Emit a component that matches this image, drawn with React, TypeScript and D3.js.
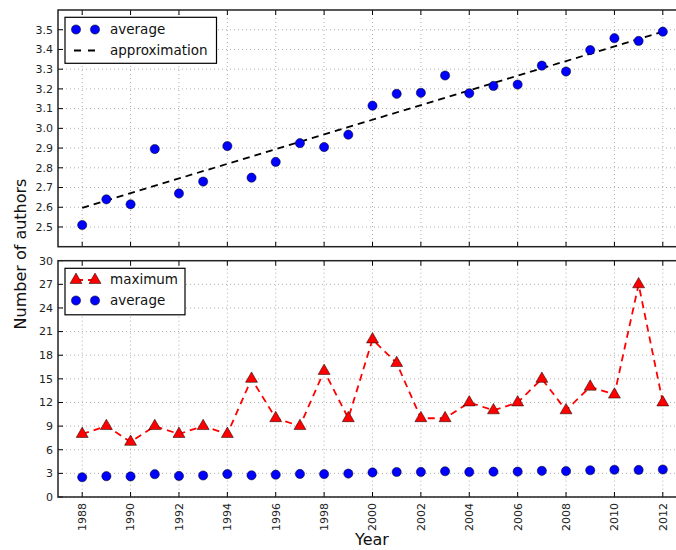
import React from "react";
import * as d3 from "d3";

const years = d3.range(1988, 2013);
const averageValues = [2.51, 2.64, 2.615, 2.895, 2.67, 2.73, 2.91, 2.75, 2.83, 2.925, 2.905, 2.968, 3.115, 3.175, 3.18, 3.268, 3.178, 3.215, 3.222, 3.318, 3.288, 3.397, 3.457, 3.443, 3.49];
const maximumValues = [8, 9, 7, 9, 8, 9, 8, 15, 10, 9, 16, 10, 20, 17, 10, 10, 12, 11, 12, 15, 11, 14, 13, 27, 12];
const approxYears = [1988, 2012];
const approxValues = [2.597, 3.49];
const topTicks = [2.5, 2.6, 2.7, 2.8, 2.9, 3.0, 3.1, 3.2, 3.3, 3.4, 3.5];
const bottomTicks = [0, 3, 6, 9, 12, 15, 18, 21, 24, 27, 30];
const xTicks = [1988, 1990, 1992, 1994, 1996, 1998, 2000, 2002, 2004, 2006, 2008, 2010, 2012];

const FONT = "DejaVu Sans, sans-serif";
const W = 676, H = 550;
const left = 58, right = 687;
const top1 = 10, bot1 = 246.7;
const top2 = 260.7, bot2 = 497;

const x = d3.scaleLinear().domain([1987, 2013]).range([left, right]);
const y1 = d3.scaleLinear().domain([2.4, 3.6]).range([bot1, top1]);
const y2 = d3.scaleLinear().domain([0, 30]).range([bot2, top2]);

const tri = d3.symbol().type(d3.symbolTriangle).size(62)();
const DASH = "7,5";

function Panel({ y, yTicks, fmt, top, bot, children }: any) {
  return (
    <g>
      {xTicks.map((t) => (
        <line key={"gx" + t} x1={x(t)} x2={x(t)} y1={top} y2={bot} stroke="#777" strokeWidth={0.6} strokeDasharray="1,3" />
      ))}
      {yTicks.map((t: number) => (
        <line key={"gy" + t} x1={left} x2={right} y1={y(t)} y2={y(t)} stroke="#777" strokeWidth={0.6} strokeDasharray="1,3" />
      ))}
      {children}
      {xTicks.map((t) => (
        <g key={"tx" + t}>
          <line x1={x(t)} x2={x(t)} y1={bot} y2={bot - 5} stroke="#000" strokeWidth={1} />
          <line x1={x(t)} x2={x(t)} y1={top} y2={top + 5} stroke="#000" strokeWidth={1} />
        </g>
      ))}
      {yTicks.map((t: number) => (
        <g key={"ty" + t}>
          <line x1={left} x2={left + 5} y1={y(t)} y2={y(t)} stroke="#000" strokeWidth={1} />
          <text x={left - 5} y={y(t)} dy="0.35em" textAnchor="end" fontSize={11} fontFamily={FONT} fill="#222">{fmt(t)}</text>
        </g>
      ))}
      <rect x={left} y={top} width={right - left} height={bot - top} fill="none" stroke="#222" strokeWidth={1.5} />
    </g>
  );
}

export default function App() {
  const approxLine = d3.line<number>().x((d, i) => x(approxYears[i])).y((d) => y1(d));
  const maxLine = d3.line<number>().x((d, i) => x(years[i])).y((d) => y2(d));
  return (
    <svg width={W} height={H} style={{ position: "absolute", left: 0, top: 0, background: "#fff" }}>
      <rect width={W} height={H} fill="#fff" />
      <Panel y={y1} yTicks={topTicks} fmt={(t: number) => t.toFixed(1)} top={top1} bot={bot1}>
        <path d={approxLine(approxValues) || ""} fill="none" stroke="#000" strokeWidth={1.8} strokeDasharray={DASH} />
        {averageValues.map((v, i) => (
          <circle key={i} cx={x(years[i])} cy={y1(v)} r={4.6} fill="#0000ff" stroke="#000" strokeWidth={0.5} />
        ))}
        <g>
          <rect x={65} y={17.3} width={151.5} height={46} fill="#fff" stroke="#000" strokeWidth={1.2} />
          <circle cx={76} cy={29.5} r={4.6} fill="#0000ff" stroke="#000" strokeWidth={0.5} />
          <circle cx={95} cy={29.5} r={4.6} fill="#0000ff" stroke="#000" strokeWidth={0.5} />
          <text x={110} y={29.5} dy="0.35em" fontSize={13.5} fontFamily={FONT} fill="#111">average</text>
          <line x1={74} x2={100} y1={50.5} y2={50.5} stroke="#000" strokeWidth={1.8} strokeDasharray="7,7" />
          <text x={110} y={50.5} dy="0.35em" fontSize={13.5} fontFamily={FONT} fill="#111">approximation</text>
        </g>
      </Panel>
      <Panel y={y2} yTicks={bottomTicks} fmt={(t: number) => String(t)} top={top2} bot={bot2}>
        <path d={maxLine(maximumValues) || ""} fill="none" stroke="#ff0000" strokeWidth={1.8} strokeDasharray={DASH} />
        {averageValues.map((v, i) => (
          <circle key={i} cx={x(years[i])} cy={y2(v)} r={4.6} fill="#0000ff" stroke="#000" strokeWidth={0.5} />
        ))}
        {maximumValues.map((v, i) => (
          <path key={"m" + i} d={tri || ""} transform={`translate(${x(years[i])},${y2(v)})`} fill="#ff0000" stroke="#000" strokeWidth={0.5} />
        ))}
        <g>
          <rect x={65} y={268.3} width={120} height={46.5} fill="#fff" stroke="#000" strokeWidth={1.2} />
          <line x1={76} x2={95} y1={280} y2={280} stroke="#ff0000" strokeWidth={1.8} strokeDasharray={DASH} />
          <path d={tri || ""} transform="translate(76,280)" fill="#ff0000" stroke="#000" strokeWidth={0.5} />
          <path d={tri || ""} transform="translate(95,280)" fill="#ff0000" stroke="#000" strokeWidth={0.5} />
          <text x={110} y={279.5} dy="0.35em" fontSize={13.5} fontFamily={FONT} fill="#111">maximum</text>
          <circle cx={76} cy={300.5} r={4.6} fill="#0000ff" stroke="#000" strokeWidth={0.5} />
          <circle cx={95} cy={300.5} r={4.6} fill="#0000ff" stroke="#000" strokeWidth={0.5} />
          <text x={110} y={300.5} dy="0.35em" fontSize={13.5} fontFamily={FONT} fill="#111">average</text>
        </g>
        {xTicks.map((t) => (
          <text key={"xl" + t} transform={`translate(${x(t)},503) rotate(-90)`} dy="0.35em" textAnchor="end" fontSize={11} fontFamily={FONT} fill="#222">{t}</text>
        ))}
      </Panel>
      <text transform="translate(26,254) rotate(-90)" textAnchor="middle" fontSize={16} fontFamily={FONT} fill="#111">Number of authors</text>
      <text x={372} y={545} textAnchor="middle" fontSize={16} fontFamily={FONT} fill="#111">Year</text>
    </svg>
  );
}
